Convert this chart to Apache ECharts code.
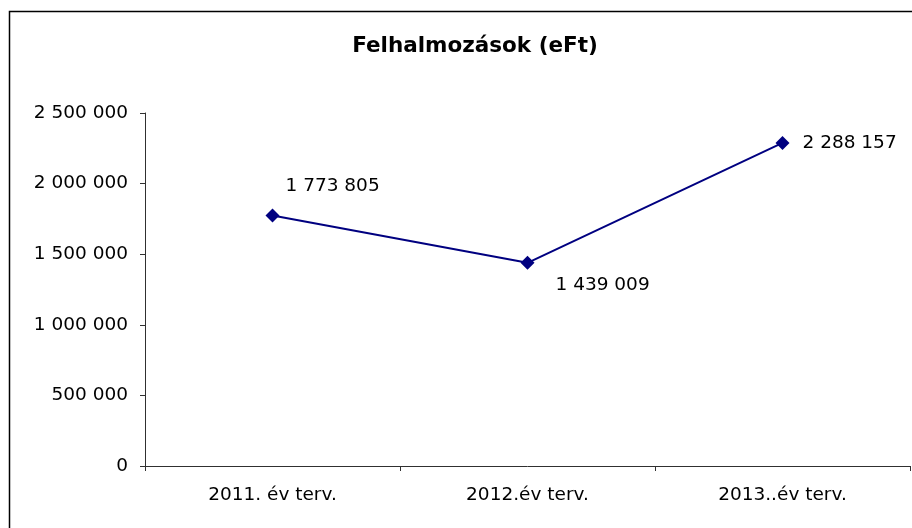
<!DOCTYPE html>
<html>
<head>
  <meta charset="utf-8">
  <script src="https://cdn.jsdelivr.net/npm/echarts@6/dist/echarts.min.js"></script>
</head>
<body style="margin: 0; background: #fff">
  <div id="container" style="width: 912px; height: 528px"></div>
  <script>
    var categories = ['2011. év terv.', '2012.év terv.', '2013..év terv.'];
    var values = [1773805, 1439009, 2288157];
    // per-point label nudges [dx, dy]
    var labelOffsets = [[6, -29], [21, 22], [13, 0]];
    var yTicks = { min: 0, max: 2500000, interval: 500000 };

    function fmt(v) {
      return String(v).replace(/\B(?=(\d{3})+(?!\d))/g, ' ');
    }

    var chart = echarts.init(document.getElementById('container'), null, { renderer: 'canvas' });
    var font = 'DejaVu Sans, Verdana, sans-serif';

    chart.setOption({
      animation: false,
      backgroundColor: '#fff',
      title: {
        text: 'Felhalmozások (eFt)',
        left: 470,
        top: 30,
        textAlign: 'center',
        textStyle: { fontFamily: font, fontSize: 21.5, fontWeight: 'bold', color: '#000' }
      },
      graphic: [{
        type: 'rect',
        shape: { x: 9.5, y: 11.5, width: 940, height: 560 },
        style: { fill: 'none', stroke: '#000', lineWidth: 1.5 },
        silent: true
      }],
      grid: { left: 145, right: 2, top: 113, bottom: 62 },
      xAxis: {
        type: 'category',
        data: categories,
        boundaryGap: true,
        axisLine: { lineStyle: { color: '#303030', width: 1 } },
        axisTick: { show: true, length: 5, inside: false, lineStyle: { color: '#303030' } },
        axisLabel: { fontFamily: font, fontSize: 18.5, color: '#000', margin: 20 },
        splitLine: { show: false }
      },
      yAxis: {
        type: 'value',
        min: yTicks.min,
        max: yTicks.max,
        interval: yTicks.interval,
        axisLine: { show: true, lineStyle: { color: '#303030', width: 1 } },
        axisTick: { show: true, length: 5, lineStyle: { color: '#303030' } },
        axisLabel: { fontFamily: font, fontSize: 18.5, color: '#000', margin: 17, formatter: fmt },
        splitLine: { show: false }
      },
      series: [{
        type: 'line',
        data: values.map(function (v, i) {
          return {
            value: v,
            label: { offset: labelOffsets[i] }
          };
        }),
        symbol: 'diamond',
        symbolSize: 14,
        lineStyle: { color: '#000080', width: 2 },
        itemStyle: { color: '#000080' },
        label: {
          show: true,
          position: 'right',
          distance: 0,
          fontFamily: font,
          fontSize: 18.5,
          color: '#000',
          formatter: function (p) { return fmt(p.value); }
        }
      }]
    });
  </script>
</body>
</html>
